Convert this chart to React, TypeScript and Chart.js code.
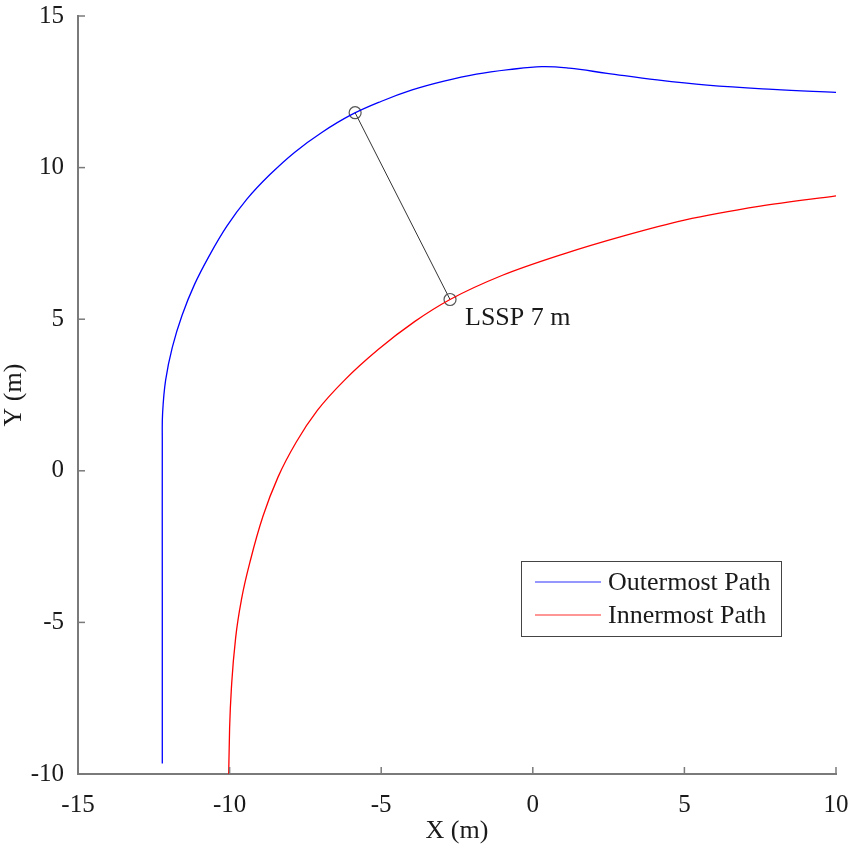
import React, { useEffect, useRef } from "react";
import { Chart, registerables } from "chart.js";

Chart.register(...registerables);

// ---- Data ----
const outerX = [-12.22, -12.22, -12.22, -12.21, -12.11, -11.89, -11.57, -11.16, -10.65, -10.09, -9.43, -8.67, -7.85, -6.96, -6.01, -5.01, -3.98, -2.93, -1.86, -0.79, 0.3, 1.2, 2.45, 4.1, 5.75, 7.92, 10.0];
const outerY = [-9.65, -4.0, 1.0, 1.9, 2.99, 4.07, 5.12, 6.14, 7.13, 8.07, 8.96, 9.77, 10.51, 11.16, 11.73, 12.18, 12.56, 12.85, 13.08, 13.23, 13.33, 13.28, 13.11, 12.89, 12.72, 12.58, 12.48];

const innerX = [-10.03, -10.0, -9.93, -9.8, -9.6, -9.3, -8.9, -8.4, -7.8, -7.1, -6.2, -5.1, -3.9, -2.73, -1.0, 1.0, 3.0, 5.0, 7.5, 10.0];
const innerY = [-10.0, -8.5, -7.0, -5.5, -4.2, -2.9, -1.5, -0.2, 0.95, 2.0, 3.0, 4.0, 4.92, 5.65, 6.45, 7.15, 7.75, 8.27, 8.73, 9.07];

const lsspX = [-5.86, -2.73];
const lsspY = [11.81, 5.65];
const lsspLabel = "LSSP 7 m";

const seriesNames = ["Outermost Path", "Innermost Path"];
const seriesColors = ["#0000ff", "#ff0000"];

const xTitle = "X (m)";
const yTitle = "Y (m)";
const xMin = -15, xMax = 10, yMin = -10, yMax = 15, tickStep = 5;

const FONT = "'Liberation Serif', 'Times New Roman', serif";

const zip = (xs: number[], ys: number[]) => xs.map((x, i) => ({ x, y: ys[i] }));

const overlayPlugin = {
  id: "overlay",
  afterDraw(chart: any) {
    const ctx = chart.ctx;
    const area = chart.chartArea;
    const xs = chart.scales.x;
    const ys = chart.scales.y;
    ctx.save();
    // inward ticks
    ctx.strokeStyle = "#7a7a7a";
    ctx.lineWidth = 1.5;
    const tl = 7;
    xs.ticks.forEach((t: any) => {
      const px = xs.getPixelForValue(t.value);
      ctx.beginPath();
      ctx.moveTo(px, area.bottom);
      ctx.lineTo(px, area.bottom - tl);
      ctx.stroke();
    });
    ys.ticks.forEach((t: any) => {
      const py = ys.getPixelForValue(t.value);
      ctx.beginPath();
      ctx.moveTo(area.left, py);
      ctx.lineTo(area.left + tl, py);
      ctx.stroke();
    });

    // annotation label
    const lx = xs.getPixelForValue(lsspX[1]);
    const ly = ys.getPixelForValue(lsspY[1]);
    ctx.fillStyle = "#1a1a1a";
    ctx.font = `26px ${FONT}`;
    ctx.textAlign = "left";
    ctx.textBaseline = "middle";
    ctx.fillText(lsspLabel, lx + 15, ly + 19);

    // legend
    const boxW = 260, boxH = 75;
    const bx = area.right - 55 - boxW;
    const by = area.bottom - 138 - boxH;
    ctx.fillStyle = "#ffffff";
    ctx.fillRect(bx, by, boxW, boxH);
    ctx.strokeStyle = "#444";
    ctx.lineWidth = 1;
    ctx.strokeRect(bx + 0.5, by + 0.5, boxW, boxH);
    seriesNames.forEach((name, i) => {
      const yy = by + 21 + i * 33;
      ctx.strokeStyle = seriesColors[i];
      ctx.globalAlpha = 0.55;
      ctx.lineWidth = 1.5;
      ctx.beginPath();
      ctx.moveTo(bx + 14, yy);
      ctx.lineTo(bx + 80, yy);
      ctx.stroke();
      ctx.globalAlpha = 1;
      ctx.fillStyle = "#1a1a1a";
      ctx.font = `26px ${FONT}`;
      ctx.textAlign = "left";
      ctx.textBaseline = "middle";
      ctx.fillText(name, bx + 87, yy + 1);
    });
    ctx.restore();
  },
};

export default function App() {
  const ref = useRef<HTMLCanvasElement | null>(null);
  useEffect(() => {
    if (!ref.current) return;
    const chart = new Chart(ref.current, {
      type: "line",
      data: {
        datasets: [
          {
            label: seriesNames[0],
            data: zip(outerX, outerY),
            borderColor: seriesColors[0],
            borderWidth: 1.3,
            pointRadius: 0,
            tension: 0.4,
            fill: false,
          },
          {
            label: seriesNames[1],
            data: zip(innerX, innerY),
            borderColor: seriesColors[1],
            borderWidth: 1.3,
            pointRadius: 0,
            cubicInterpolationMode: "monotone",
            fill: false,
          },
          {
            label: "LSSP",
            data: zip(lsspX, lsspY),
            borderColor: "#333",
            borderWidth: 1,
            pointRadius: 6,
            pointBorderColor: "#555",
            pointBackgroundColor: "rgba(0,0,0,0)",
            pointBorderWidth: 1.2,
            tension: 0,
            fill: false,
          },
        ],
      },
      options: {
        responsive: false,
        animation: false,
        parsing: false as any,
        layout: { padding: { left: 0, top: 16, right: 14, bottom: 0 } },
        plugins: {
          legend: { display: false },
          tooltip: { enabled: false },
        },
        scales: {
          x: {
            type: "linear",
            min: xMin,
            max: xMax,
            afterFit: (s: any) => {
              s.height = 70;
              s.paddingLeft = 0;
              s.paddingRight = 0;
            },
            grid: { display: false },
            border: { display: true, color: "#7a7a7a", width: 2 },
            ticks: {
              stepSize: tickStep,
              padding: 8,
              color: "#1a1a1a",
              font: { family: FONT, size: 25, lineHeight: 1.2 },
              maxRotation: 0,
            },
            title: {
              display: true,
              text: xTitle,
              color: "#1a1a1a",
              padding: 0,
              font: { family: FONT, size: 26, lineHeight: 1.0 },
            },
          },
          y: {
            type: "linear",
            min: yMin,
            max: yMax,
            afterFit: (s: any) => {
              s.width = 78;
              s.paddingTop = 0;
              s.paddingBottom = 0;
            },
            grid: { display: false },
            border: { display: true, color: "#7a7a7a", width: 2 },
            ticks: {
              stepSize: tickStep,
              padding: 6,
              color: "#1a1a1a",
              font: { family: FONT, size: 25, lineHeight: 1.2 },
            },
            title: {
              display: true,
              text: yTitle,
              color: "#1a1a1a",
              padding: 0,
              font: { family: FONT, size: 26, lineHeight: 1.1 },
            },
          },
        },
      },
      plugins: [overlayPlugin],
    });
    return () => chart.destroy();
  }, []);
  return (
    <div style={{ position: "absolute", left: 0, top: 0, width: 850, height: 844, background: "#fff" }}>
      <canvas ref={ref} width={850} height={844} />
    </div>
  );
}
